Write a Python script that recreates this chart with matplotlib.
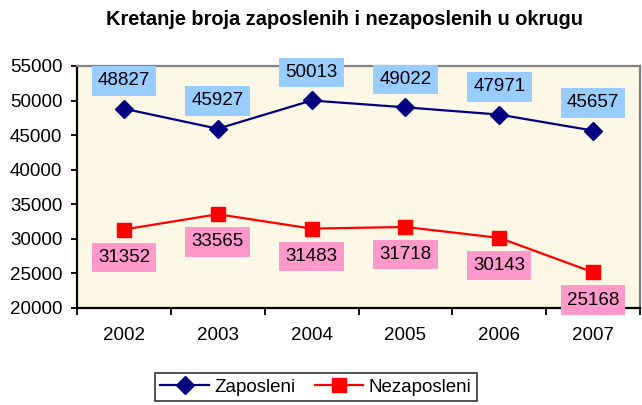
import matplotlib
matplotlib.use("Agg")
import matplotlib.pyplot as plt
from matplotlib.ticker import FixedLocator, NullFormatter

plt.rcParams['font.family'] = ['Liberation Sans', 'DejaVu Sans']

years = ['2002', '2003', '2004', '2005', '2006', '2007']
zaposleni = [48827, 45927, 50013, 49022, 47971, 45657]
nezaposleni = [31352, 33565, 31483, 31718, 30143, 25168]
yticks = [20000, 25000, 30000, 35000, 40000, 45000, 50000, 55000]
title = 'Kretanje broja zaposlenih i nezaposlenih u okrugu'

W, H = 642, 405
FS = 13.5
fig = plt.figure(figsize=(W / 100, H / 100), dpi=100)
fig.patch.set_facecolor('white')
ax = fig.add_axes([77 / W, 1 - 308 / H, (640 - 77) / W, (308 - 66) / H])
ax.set_facecolor('#FDF7E6')

x = list(range(len(years)))
l1, = ax.plot(x, zaposleni, color='#000080', lw=1.6, marker='D', ms=9,
              markerfacecolor='#000080', markeredgecolor='#000080', label='Zaposleni', zorder=3)
l2, = ax.plot(x, nezaposleni, color='#FF0000', lw=1.6, marker='s', ms=10,
              markerfacecolor='#FF0000', markeredgecolor='#FF0000', label='Nezaposleni', zorder=3)

for xi, v in zip(x, zaposleni):
    ax.annotate(str(v), (xi, v), xytext=(0, 20), textcoords='offset points',
                ha='center', va='center', fontsize=FS, color='black',
                bbox=dict(boxstyle='square,pad=0.33', fc='#99CCFF', ec='none'),
                annotation_clip=False, zorder=5)
for xi, v in zip(x, nezaposleni):
    ax.annotate(str(v), (xi, v), xytext=(0, -20), textcoords='offset points',
                ha='center', va='center', fontsize=FS, color='black',
                bbox=dict(boxstyle='square,pad=0.33', fc='#FF99CC', ec='none'),
                annotation_clip=False, zorder=5)

ax.set_xlim(-0.5, len(years) - 0.5)
ax.set_ylim(20000, 55000)
ax.set_yticks(yticks)
ax.set_yticklabels([str(t) for t in yticks])
ax.set_xticks(x)
ax.set_xticklabels(years)
ax.xaxis.set_minor_locator(FixedLocator([i - 0.5 for i in range(len(years) + 1)]))
ax.xaxis.set_minor_formatter(NullFormatter())
ax.tick_params(axis='x', which='major', length=0, pad=14, labelsize=FS)
ax.tick_params(axis='x', which='minor', length=5, width=1.3, direction='out', color='black')
ax.tick_params(axis='y', which='major', length=4.5, width=1.3, pad=6, labelsize=FS, color='black')

for s in ['left', 'bottom']:
    ax.spines[s].set_color('black')
    ax.spines[s].set_linewidth(1.6)
for s in ['top', 'right']:
    ax.spines[s].set_color('#808080')
    ax.spines[s].set_linewidth(1.6)

fig.text(345 / W, 1 - 25 / H, title, ha='center', va='baseline',
         fontsize=14.4, fontweight='bold')

leg = fig.legend(handles=[l1, l2], loc='center', bbox_to_anchor=(316 / W, 1 - 387 / H),
                 ncol=2, fontsize=FS, frameon=True, fancybox=False, handlelength=2.6,
                 handletextpad=0.3, columnspacing=1.0, borderpad=0.3, borderaxespad=0)
leg.get_frame().set_edgecolor('black')
leg.get_frame().set_linewidth(1.2)
leg.get_frame().set_facecolor('white')

fig.savefig('out.png', dpi=100)
